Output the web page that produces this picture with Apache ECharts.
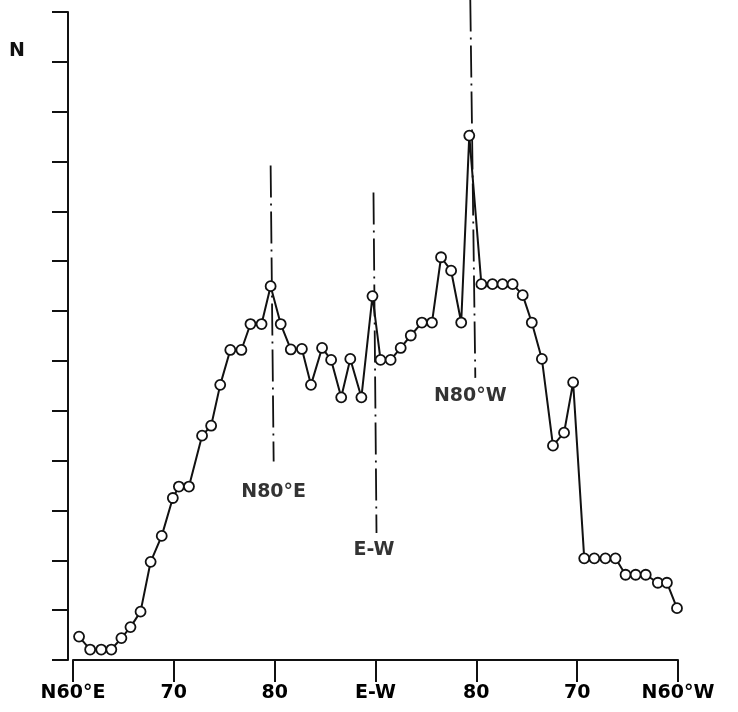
<!DOCTYPE html>
<html>
<head>
<meta charset="utf-8">
<script src="https://cdn.jsdelivr.net/npm/echarts@6/dist/echarts.min.js"></script>
<style>
  html, body { margin: 0; padding: 0; background: #fff; }
  #chart { width: 738px; height: 712px; }
</style>
</head>
<body>
<div id="chart"></div>
<script>
// strike direction, degrees counted from N60°E (0) through E-W (30) to N60°W (60)
var strike = [
    0.6, 1.7, 2.8, 3.8, 4.8, 5.7, 6.7, 7.7, 8.8, 9.9,
    10.5, 11.5, 12.8, 13.7, 14.6, 15.6, 16.7, 17.6, 18.7, 19.6,
    20.6, 21.6, 22.7, 23.6, 24.7, 25.6, 26.6, 27.5, 28.6, 29.7,
    30.5, 31.5, 32.5, 33.5, 34.6, 35.6, 36.5, 37.5, 38.5, 39.3,
    40.5, 41.6, 42.6, 43.6, 44.6, 45.5, 46.5, 47.6, 48.7, 49.6,
    50.7, 51.7, 52.8, 53.8, 54.8, 55.8, 56.8, 58.0, 58.9, 59.9
];
// number of lineaments (in tick units)
var counts = [
    0.47, 0.21, 0.21, 0.21, 0.44, 0.66, 0.97, 1.97, 2.49, 3.25,
    3.48, 3.48, 4.50, 4.70, 5.52, 6.22, 6.22, 6.74, 6.74, 7.50,
    6.74, 6.23, 6.24, 5.52, 6.26, 6.02, 5.27, 6.04, 5.27, 7.30,
    6.02, 6.02, 6.26, 6.51, 6.77, 6.77, 8.08, 7.81, 6.77, 10.52,
    7.54, 7.54, 7.54, 7.54, 7.32, 6.77, 6.04, 4.30, 4.56, 5.57,
    2.04, 2.04, 2.04, 2.04, 1.71, 1.71, 1.71, 1.55, 1.55, 1.04
];
var tickLabels = ['N60°E', '70', '80', 'E-W', '80', '70', 'N60°W'];

// reference directions: dash-dot line ends and label anchor
var refNames = ['N80°E', 'E-W', 'N80°W'];
var refTop = [[19.6, 9.92], [29.8, 9.38], [39.4, 13.25]];
var refBottom = [[19.9, 3.98], [30.1, 2.55], [39.9, 5.66]];
var refLabel = [[19.9, 3.37], [29.85, 2.21], [39.4, 5.30]];

var points = [];
for (var i = 0; i < strike.length; i++) {
    points.push([strike[i], counts[i]]);
}

var font = 'DejaVu Sans';
var series = [];
for (var j = 0; j < refNames.length; j++) {
    series.push({
        name: refNames[j],
        type: 'line',
        data: [refTop[j], refBottom[j]],
        clip: false,
        silent: true,
        symbol: 'none',
        lineStyle: { color: '#111', width: 1.8, type: [32, 6, 2, 6] },
        z: 1
    });
}
var refText = [];
for (var k = 0; k < refNames.length; k++) {
    refText.push({ value: refLabel[k], name: refNames[k] });
}
series.push({
    name: 'labels',
    type: 'scatter',
    data: refText,
    symbolSize: 0,
    silent: true,
    label: {
        show: true,
        position: 'inside',
        formatter: function (p) { return p.name; },
        color: '#000',
        fontFamily: font,
        fontWeight: 'bold',
        fontSize: 19
    }
});
series.push({
    name: 'N',
    type: 'line',
    data: points,
    clip: false,
    symbol: 'circle',
    symbolSize: 10,
    itemStyle: { color: '#fff', borderColor: '#111', borderWidth: 1.8 },
    lineStyle: { color: '#111', width: 2 },
    z: 3
});

var chart = echarts.init(document.getElementById('chart'));
chart.setOption({
    backgroundColor: '#fff',
    animation: false,
    grid: { left: 73, right: 60, top: 12, bottom: 52 },
    xAxis: {
        type: 'value',
        min: 0,
        max: 60,
        interval: 10,
        axisLine: { show: true, onZero: false, lineStyle: { color: '#111', width: 2 } },
        axisTick: { show: true, inside: false, length: 22, lineStyle: { color: '#111', width: 2 } },
        axisLabel: {
            margin: 24,
            color: '#000',
            fontFamily: font,
            fontWeight: 'bold',
            fontSize: 19,
            formatter: function (v) { return tickLabels[Math.round(v / 10)]; }
        },
        splitLine: { show: false }
    },
    yAxis: {
        type: 'value',
        min: 0,
        max: 13,
        interval: 1,
        offset: 5,
        axisLine: { show: true, onZero: false, lineStyle: { color: '#111', width: 2 } },
        axisTick: { show: true, inside: false, length: 16, lineStyle: { color: '#111', width: 2 } },
        axisLabel: { show: false },
        splitLine: { show: false }
    },
    graphic: [{
        type: 'text',
        left: 9,
        top: 42,
        style: { text: 'N', fontFamily: font, fontSize: 19, fontWeight: 'bold', fill: '#111' }
    }],
    series: series
});
</script>
</body>
</html>
